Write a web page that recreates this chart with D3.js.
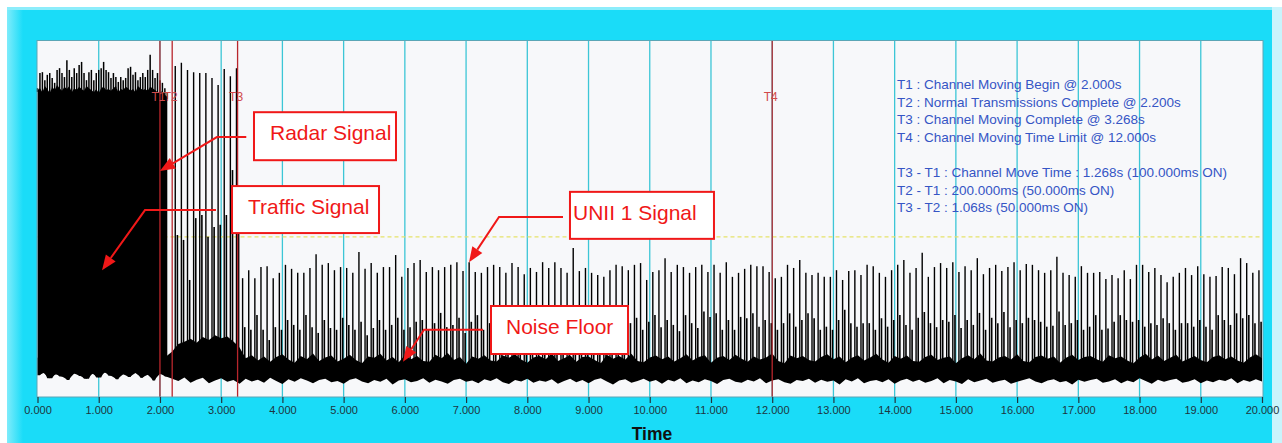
<!DOCTYPE html>
<html>
<head>
<meta charset="utf-8">
<script src="https://cdn.jsdelivr.net/npm/d3@7"></script>
<style>
body { margin: 0; background: #fff; }
svg { display: block; font-family: "Liberation Sans", Arial, sans-serif; }
</style>
</head>
<body>
<svg id="drawing_region"></svg>
<script>
// ---- data (levels in dBm) ----
const tickValues = d3.range(0, 21);

const eventNames = ['T1', 'T2', 'T3', 'T4'];
const eventTimes = [2.0, 2.2, 3.268, 12.0];
const thresholdLevel = -64;

const infoLines = [
    'T1 : Channel Moving Begin @ 2.000s',
    'T2 : Normal Transmissions Complete @ 2.200s',
    'T3 : Channel Moving Complete @ 3.268s',
    'T4 : Channel Moving Time Limit @ 12.000s',
    '',
    'T3 - T1 : Channel Move Time : 1.268s (100.000ms ON)',
    'T2 - T1 : 200.000ms (50.000ms ON)',
    'T3 - T2 : 1.068s (50.000ms ON)'
];

// traffic burst before T1, one sample every 0.04 s from 0 s
const trafficStep = 0.04;
const trafficPeaks = [-30.6, -27.2, -27.0, -28.8, -27.6, -27.2, -28.3, -29.4, -26.5, -26.1,
    -27.2, -28.1, -24.3, -26.5, -28.1, -26.1, -27.2, -25.4, -24.7, -27.2,
    -28.8, -27.0, -26.5, -28.8, -27.2, -26.5, -26.1, -24.7, -26.5, -27.0,
    -28.3, -27.2, -28.1, -29.2, -28.1, -28.8, -28.3, -26.1, -25.8, -27.6,
    -27.0, -28.8, -28.1, -27.2, -28.1, -26.5, -23.1, -26.5, -28.3, -27.2,
    -28.8, -29.4, -30.6, -31.5];
// solid part of the burst under the peaks
const trafficBody = [-31.0, -30.6, -31.5, -30.1, -30.8, -31.7, -30.3, -31.0, -29.9, -30.6,
    -31.2, -30.3, -30.8, -30.1, -31.5, -30.6, -31.0, -30.3, -30.8, -31.2,
    -30.1, -30.6, -31.0, -31.5, -30.8, -31.7, -30.6, -30.3, -31.0, -30.8,
    -31.2, -30.6, -30.1, -31.5, -30.8, -31.0, -30.3, -30.6, -31.2, -30.8,
    -31.5, -30.1, -30.6, -31.0, -30.8, -31.2, -30.3, -30.6, -31.0, -31.5,
    -31.7, -31.2, -32.1, -32.6];

// pulse train after the burst, one pulse every 0.1 s from 2.25 s
const pulseStart = 2.25;
const pulsePeriod = 0.1;
const mainPulsePeaks = [-25.6, -24.9, -26.5, -27.0, -27.2, -27.2, -28.3, -29.9, -26.3, -27.9, -26.1,
    -73.3, -71.5, -73.3, -70.8, -70.6, -73.3, -72.1, -70.3, -71.2, -72.1,
    -72.1, -71.0, -67.9, -70.3, -69.9, -71.5, -70.8, -71.0, -72.1, -67.4,
    -71.2, -69.9, -72.1, -70.8, -70.8, -68.1, -73.0, -71.0, -69.9,
    -69.2, -71.9, -70.8, -71.5, -70.8, -70.3, -69.7, -71.7, -69.7, -71.9,
    -72.1, -70.8, -70.3, -70.8, -72.1, -69.9, -70.8, -72.4, -71.0, -71.9,
    -69.7, -71.0, -69.7, -71.0, -72.1, -66.5, -71.7, -71.0, -72.1, -72.6,
    -73.0, -71.5, -70.3, -70.6, -71.5, -70.3, -69.9, -73.7, -71.9, -71.5,
    -68.8, -71.9, -70.3, -70.8, -72.1, -70.8,
    -70.3, -71.9, -70.3, -72.1, -69.7, -73.0, -72.1, -71.2, -70.3, -70.6,
    -70.6, -71.9, -73.3, -73.0, -70.3, -71.0, -69.2, -72.1, -72.6, -72.1,
    -73.0, -73.0, -71.5, -73.7, -71.7, -71.5, -72.6, -70.3, -70.6, -72.1,
    -73.0, -71.5, -70.3, -69.2, -72.1, -71.0, -67.6, -73.0, -70.8, -69.9,
    -71.0, -69.7, -71.9, -70.6, -71.5, -68.8, -72.4, -71.0, -70.3, -71.7, -70.8, -69.7,
    -71.5, -70.1, -70.3, -71.5, -72.1, -71.5, -68.5, -72.1, -72.6, -73.0,
    -70.6, -72.1, -72.1, -71.9, -73.5, -72.6, -73.3, -71.5, -73.5, -70.3,
    -70.3, -71.9, -71.0, -72.6, -74.2, -73.0, -72.1, -71.0, -72.6, -70.6,
    -72.4, -73.0, -72.8, -70.8, -71.0, -72.4, -68.8, -69.9, -72.1, -71.5];
// smaller pulse that trails each main pulse
const sidePulseLag = 0.035;
const sidePulsePeaks = [-63.6, -64.7, -73.7, -59.8, -59.1, -64.0, -61.8, -61.3, -59.1, -49.0, -62.5,
    -84.3, -84.9, -81.6, -84.9, -87.2, -84.3, -84.9, -82.7, -83.8, -84.9,
    -81.6, -84.3, -85.6, -82.7, -84.5, -84.9, -82.2, -83.8, -84.9, -83.1,
    -86.1, -84.5, -82.7, -84.9, -83.8, -82.2, -84.9, -84.3, -83.1,
    -82.7, -84.9, -83.4, -81.1, -84.3, -83.8, -82.2, -85.6, -83.1, -81.6,
    -84.9, -83.4, -82.7, -84.3, -80.9, -83.8, -84.9, -82.2, -83.4, -85.2,
    -81.6, -83.8, -82.7, -84.5, -83.1, -80.4, -83.8, -84.9, -82.2, -83.4,
    -84.3, -81.1, -82.7, -85.6, -83.4, -82.2, -84.9, -83.1, -81.6, -84.3,
    -82.7, -83.8, -85.2, -81.6, -83.4, -84.5,
    -80.8, -82.0, -81.2, -84.9, -82.7, -84.9, -82.0, -82.3, -81.2, -84.2,
    -82.7, -83.4, -84.9, -83.4, -81.2, -84.2, -82.7, -81.2, -82.3, -84.9,
    -84.2, -84.9, -82.7, -80.4, -83.4, -84.2, -83.4, -83.4, -84.9, -82.3,
    -84.2, -82.7, -81.6, -83.8, -84.9, -82.2, -80.9, -83.4, -84.3, -82.7,
    -83.1, -81.6, -84.5, -82.7, -83.8, -81.1, -84.9, -82.2, -83.4, -80.9, -84.3, -82.7,
    -83.4, -82.2, -82.7, -83.1, -84.2, -84.0, -80.8, -83.8, -83.4, -82.7,
    -84.9, -84.2, -81.6, -84.9, -84.6, -83.1, -81.6, -82.7, -83.1, -82.7,
    -84.2, -83.4, -83.8, -82.3, -83.4, -84.9, -83.4, -83.4, -84.2, -82.7,
    -84.2, -84.9, -81.6, -82.7, -83.8, -81.2, -82.3, -81.6, -83.4, -83.1];

// noise floor envelope, one sample every 0.1 s from 0 s
const noiseStep = 0.1;
const noiseTop = [-91.2, -90.6, -91.5, -90.8, -91.9, -90.4, -91.1, -91.7, -90.9, -91.3,
    -90.5, -91.8, -91.0, -90.7, -91.4, -91.9, -90.6, -91.2, -90.8, -91.5, -90.3, -90.9,
    -89.8, -88.1, -87.6, -86.9, -87.8, -86.5, -87.2, -86.1, -86.8, -86.4, -87.5, -88.9,
    -91.3, -90.6, -91.8, -90.9, -92.1, -91.0, -90.4, -91.6, -92.3, -90.8,
    -91.5, -90.2, -91.9, -91.1, -90.7, -92.0, -91.4, -90.5, -91.7, -92.4,
    -90.9, -91.2, -90.3, -91.8, -91.0, -92.2, -90.6, -91.5, -90.8, -91.9,
    -92.1, -90.5, -91.3, -90.1, -91.7, -91.0, -92.5, -90.9, -91.4, -90.6,
    -91.8, -92.0, -90.7, -91.2, -90.4, -91.6, -92.3, -91.1, -90.8, -91.5,
    -90.2, -91.9, -91.3, -90.6, -92.1, -91.0, -90.9, -91.7, -92.4, -90.5,
    -91.4, -90.8, -91.6, -90.3, -91.9, -92.2, -91.1, -90.7, -91.5, -90.9,
    -92.0, -91.3, -90.4, -91.8, -91.0, -90.6, -92.3, -91.2, -90.8, -91.7,
    -90.5, -91.4, -92.1, -90.9, -91.6, -91.1, -90.2, -91.9, -92.4, -90.7,
    -91.3, -90.8, -91.7, -92.0, -91.0, -90.4, -91.5, -90.9, -92.2, -91.2,
    -90.6, -91.8, -91.1, -90.3, -91.6, -92.3, -90.8, -91.4, -90.7, -91.9,
    -92.1, -91.0, -90.5, -91.7, -91.2, -90.9, -92.4, -91.3, -90.6, -91.5,
    -90.2, -91.8, -92.0, -91.1, -90.8, -91.6, -90.4, -91.9, -92.2, -91.0,
    -90.7, -91.4, -90.9, -92.3, -91.2, -90.5, -91.7, -91.0, -90.8, -91.5,
    -92.1, -90.6, -91.3, -90.9, -91.8, -92.4, -91.1, -90.3, -91.6, -90.7,
    -91.9, -91.2, -90.5, -92.0, -91.4, -90.8, -91.7,
    -92.2, -91.0, -90.6, -91.5, -90.9, -91.8, -92.3, -91.1, -90.4, -91.3];
const noiseBottom = [-95.1, -94.6, -95.8, -94.9, -95.4, -96.2, -94.7, -95.3, -95.9, -94.8,
    -95.6, -94.5, -95.2, -96.0, -94.9, -95.5, -94.6, -95.7, -95.0, -96.3, -94.8, -95.4,
    -95.9, -96.4, -95.6, -96.8, -96.1, -95.7, -96.9, -96.3, -95.8, -96.6,
    -96.2, -97.0, -95.9, -96.5, -96.1, -96.8, -95.7, -96.4, -97.1, -96.0,
    -96.6, -95.8, -96.3, -96.9, -96.2, -95.9, -96.7, -96.4, -97.0, -96.1,
    -95.8, -96.5, -96.9, -96.2, -96.6, -95.9, -97.2, -96.3, -96.0, -96.7,
    -96.4, -95.8, -96.8, -96.1, -96.5, -97.0, -96.2, -95.9, -96.6, -96.3,
    -96.9, -96.0, -96.4, -95.8, -96.7, -97.1, -96.2, -96.5, -95.9, -96.8,
    -96.3, -96.6, -96.0, -97.0, -96.4, -95.9, -96.7, -96.2, -96.9, -96.1,
    -95.8, -96.5, -97.2, -96.3, -96.0, -96.8, -96.4, -95.9, -96.6, -96.2,
    -97.0, -96.1, -96.5, -95.8, -96.9, -96.3, -96.7, -96.0, -96.4, -97.1,
    -96.2, -95.9, -96.6, -96.8, -96.1, -96.5, -95.8, -96.9, -96.3, -96.0,
    -96.7, -97.0, -96.2, -96.4, -95.9, -96.8, -96.1, -96.6, -96.3, -97.2,
    -96.0, -96.5, -95.8, -96.9, -96.4, -96.2, -96.7, -96.0, -97.0, -96.3,
    -95.9, -96.6, -96.1, -96.8, -96.4, -95.8, -96.9, -96.2, -96.5, -97.1,
    -96.0, -96.7, -96.3, -95.9, -96.8, -96.4, -96.1, -97.0, -96.6, -96.2,
    -95.8, -96.5, -96.9, -96.3, -96.0, -96.7, -96.4, -97.2, -96.1, -96.6,
    -96.2, -95.9, -96.8, -96.5, -96.0, -96.9, -96.3, -96.7, -95.8, -96.4,
    -97.0, -96.1, -96.6, -96.2, -95.9, -96.8, -96.5, -96.0, -96.9, -96.3,
    -96.7, -96.1, -96.4, -95.8, -96.9, -96.2, -96.6, -96.0, -96.5];

// callouts: arrow tip, elbow and box corner in [time s, level dBm]
const calloutLabels = ['Radar Signal', 'Traffic Signal', 'UNII 1 Signal', 'Noise Floor'];
const calloutTips = [[2.0, -49.2], [1.054, -71.5], [7.048, -69.7], [5.97, -92.1]];
const calloutElbows = [[2.93, -41.6], [1.756, -58.0], [7.538, -59.55], [6.313, -84.9]];
const calloutTails = [3.41, 2.915, 8.583, 7.276];
const calloutCorners = [[3.536, -36.0], [3.177, -52.6], [8.697, -53.9], [7.407, -79.55]];

class TraceChart {
    constructor(config) {
        this.config = {
            parent: config.parent,
            width: config.width || 1282,
            height: config.height || 443,
            plot: config.plot
        };
        this.init();
    }

    init() {
        let self = this;
        const c = self.config;

        self.svg = d3.select(c.parent)
            .attr('width', c.width)
            .attr('height', c.height);

        self.x = d3.scaleLinear().domain([0, 20]).range([c.plot.left, c.plot.right]);
        self.y = d3.scaleLinear().domain([-100, -20]).range([c.plot.bottom, c.plot.top]);
    }

    render() {
        let self = this;
        const c = self.config;
        const x = self.x, y = self.y;
        const svg = self.svg;

        // cyan frame
        const defs = svg.append('defs');
        const gl = defs.append('linearGradient').attr('id', 'leftShade');
        gl.append('stop').attr('offset', 0).attr('stop-color', '#7fecfb');
        gl.append('stop').attr('offset', 1).attr('stop-color', '#1adcf8');
        svg.append('rect').attr('x', 7).attr('y', 7).attr('width', 1265).attr('height', 436).attr('fill', '#1adcf8');
        svg.append('rect').attr('x', 7).attr('y', 7).attr('width', 16).attr('height', 436).attr('fill', 'url(#leftShade)');
        svg.append('rect').attr('x', 7).attr('y', 7).attr('width', 1265).attr('height', 3).attr('fill', '#8cedfb');
        svg.append('rect').attr('x', 1272).attr('y', 7).attr('width', 10).attr('height', 436).attr('fill', '#c9f4fc');

        // plot area
        const pw = c.plot.right - c.plot.left;
        svg.append('rect')
            .attr('x', c.plot.left - 0.5).attr('y', c.plot.top)
            .attr('width', pw + 1.5).attr('height', c.plot.bottom - c.plot.top)
            .attr('fill', '#f7f8fa');

        // vertical grid
        svg.append('g').selectAll('line')
            .data(tickValues.slice(1, -1))
            .join('line')
            .attr('x1', d => x(d)).attr('x2', d => x(d))
            .attr('y1', c.plot.top).attr('y2', c.plot.bottom)
            .attr('stroke', '#3cc6d6').attr('stroke-width', 1.3);

        // threshold
        svg.append('line')
            .attr('x1', c.plot.left).attr('x2', c.plot.right)
            .attr('y1', y(thresholdLevel)).attr('y2', y(thresholdLevel))
            .attr('stroke', '#e6e26a').attr('stroke-width', 1.2)
            .attr('stroke-dasharray', '4,3');

        // noise floor band
        const noise = noiseTop.map((d, i) => ({ t: i * noiseStep, hi: d, lo: noiseBottom[Math.min(i, noiseBottom.length - 1)] }));
        svg.append('path')
            .datum(noise)
            .attr('d', d3.area().x(d => x(d.t)).y0(d => y(d.lo)).y1(d => y(d.hi)))
            .attr('fill', '#000');

        // traffic burst block: solid body plus thin peaks
        const burst = trafficBody.map((d, i) => {
            const t = i * trafficStep;
            return { t: t, hi: d, lo: noiseBottom[Math.round(t / noiseStep)] };
        });
        svg.append('path')
            .datum(burst)
            .attr('d', d3.area().x(d => x(d.t)).y0(d => y(d.lo)).y1(d => y(d.hi)))
            .attr('fill', '#000');
        svg.append('g').selectAll('line')
            .data(trafficPeaks)
            .join('line')
            .attr('x1', (d, i) => x(i * trafficStep)).attr('x2', (d, i) => x(i * trafficStep))
            .attr('y1', (d, i) => y(trafficBody[i]) + 2).attr('y2', d => y(d))
            .attr('stroke', '#000').attr('stroke-width', 1.5);

        // pulses
        const pulseBase = -93;
        svg.append('g').selectAll('line')
            .data(sidePulsePeaks)
            .join('line')
            .attr('x1', (d, i) => x(pulseStart + i * pulsePeriod + sidePulseLag))
            .attr('x2', (d, i) => x(pulseStart + i * pulsePeriod + sidePulseLag))
            .attr('y1', y(pulseBase)).attr('y2', d => y(d))
            .attr('stroke', '#000').attr('stroke-width', 1.6);
        svg.append('g').selectAll('line')
            .data(mainPulsePeaks)
            .join('line')
            .attr('x1', (d, i) => x(pulseStart + i * pulsePeriod))
            .attr('x2', (d, i) => x(pulseStart + i * pulsePeriod))
            .attr('y1', y(pulseBase)).attr('y2', d => y(d))
            .attr('stroke', '#000').attr('stroke-width', 1.4);

        // event markers
        svg.append('g').selectAll('line')
            .data(eventTimes)
            .join('line')
            .attr('x1', d => x(d)).attr('x2', d => x(d))
            .attr('y1', c.plot.top).attr('y2', c.plot.bottom)
            .attr('stroke', '#b8262c').attr('stroke-width', 1.3);
        svg.append('g').selectAll('text')
            .data(eventTimes)
            .join('text')
            .attr('x', d => x(d) - 1.5).attr('y', 101)
            .attr('text-anchor', 'middle')
            .attr('font-size', 12)
            .attr('fill', '#d04a4a')
            .text((d, i) => eventNames[i]);

        // plot border
        svg.append('rect')
            .attr('x', c.plot.left - 0.5).attr('y', c.plot.top - 0.5)
            .attr('width', pw + 1.5).attr('height', c.plot.bottom - c.plot.top + 0.5)
            .attr('fill', 'none').attr('stroke', '#5aa6b6').attr('stroke-width', 1);

        // x axis
        const axis = svg.append('g')
            .attr('transform', `translate(0, ${c.plot.bottom})`)
            .call(d3.axisBottom(x).tickValues(tickValues).tickFormat(d3.format('.3f')).tickSize(6).tickPadding(3));
        axis.select('.domain').remove();
        axis.selectAll('.tick line').attr('stroke', '#23343c').attr('stroke-width', 1.2);
        axis.selectAll('.tick text')
            .attr('font-family', '"Liberation Sans", Arial, sans-serif')
            .attr('font-size', 11)
            .attr('fill', '#1d3540');

        svg.append('text')
            .attr('x', 652).attr('y', 440)
            .attr('text-anchor', 'middle')
            .attr('font-size', 17.5).attr('font-weight', 'bold')
            .attr('fill', '#111')
            .text('Time');

        // info text
        svg.append('g').selectAll('text')
            .data(infoLines)
            .join('text')
            .attr('x', 897)
            .attr('y', (d, i) => 89 + i * 17.6)
            .attr('font-size', 13.5)
            .attr('fill', '#3555c5')
            .text(d => d);

        // callouts
        const sizes = [[142, 48], [147, 47], [144, 47], [137, 48]];
        const textOffsets = [16, 16, 3, 15];
        calloutLabels.forEach((label, i) => {
            const tip = [x(calloutTips[i][0]), y(calloutTips[i][1])];
            const elbow = [x(calloutElbows[i][0]), y(calloutElbows[i][1])];
            const tail = [x(calloutTails[i]), elbow[1]];
            const g = svg.append('g');
            const ang = Math.atan2(tip[1] - elbow[1], tip[0] - elbow[0]);
            const len = 15, half = 6;
            const bx = tip[0] - len * Math.cos(ang), by = tip[1] - len * Math.sin(ang);
            g.append('path')
                .attr('d', d3.line()([tail, elbow, [bx, by]]))
                .attr('fill', 'none').attr('stroke', '#f01818').attr('stroke-width', 2);
            g.append('path')
                .attr('d', d3.line()([tip,
                    [bx + half * Math.sin(ang), by - half * Math.cos(ang)],
                    [bx - half * Math.sin(ang), by + half * Math.cos(ang)]]) + 'Z')
                .attr('fill', '#f01818');
            const cx = x(calloutCorners[i][0]), cy = y(calloutCorners[i][1]);
            g.append('rect')
                .attr('x', cx).attr('y', cy)
                .attr('width', sizes[i][0]).attr('height', sizes[i][1])
                .attr('fill', '#fff').attr('stroke', '#f01818').attr('stroke-width', 2);
            g.append('text')
                .attr('x', cx + textOffsets[i]).attr('y', cy + 28)
                .attr('font-size', 21)
                .attr('fill', '#f01818')
                .text(label);
        });
    }
}

const chart = new TraceChart({
    parent: '#drawing_region',
    width: 1282,
    height: 443,
    plot: { left: 37.5, right: 1262, top: 41, bottom: 397 }
});
chart.render();
</script>
</body>
</html>
